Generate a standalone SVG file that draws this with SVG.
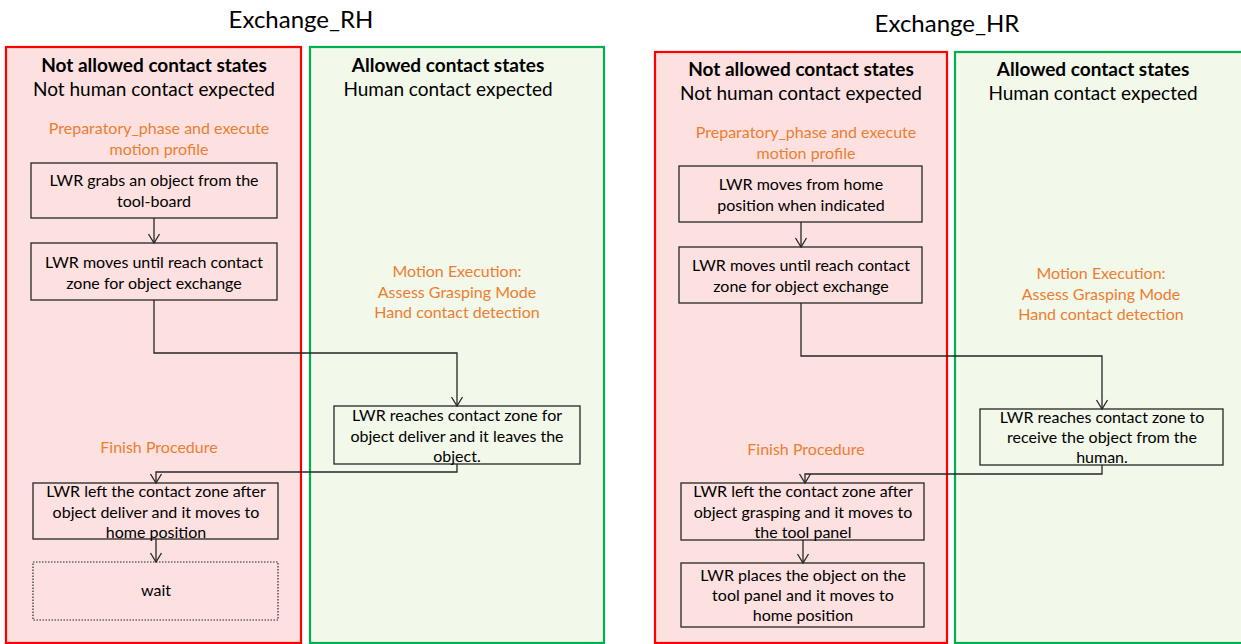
<svg xmlns="http://www.w3.org/2000/svg" width="1241" height="644" viewBox="0 0 1241 644">
<defs>
<marker id="arr" markerUnits="userSpaceOnUse" markerWidth="14" markerHeight="14" refX="12" refY="7" orient="auto" viewBox="0 0 14 14">
<path d="M3,1.5 L12,7 L3,12.5" fill="none" stroke="#262626" stroke-width="1.3"/>
</marker>
</defs>
<style>
text{font-family:Lato,"Open Sans","Liberation Sans",sans-serif;text-anchor:middle;fill:#000}
.title{font-size:24px}
.hb{font-size:19px;font-weight:bold}
.h{font-size:19px}
.or{font-size:16px;fill:#ed7d31}
.t{font-size:16px}
.red{fill:#fde1e1;stroke:#ff0000;stroke-width:2.2}
.grn{fill:#f2f8ea;stroke:#00b050;stroke-width:2.2}
.box{fill:none;stroke:#262626;stroke-width:1.3}
.dot{fill:none;stroke:#262626;stroke-width:1.2;stroke-dasharray:1.5 1.5}
.con{fill:none;stroke:#262626;stroke-width:1.3;marker-end:url(#arr)}
</style>
<rect width="1241" height="644" fill="#fff"/>
<text class="title" x="301" y="28">Exchange_RH</text>
<text class="title" x="947" y="32">Exchange_HR</text>

<g id="panel-rh-notallowed">
<rect class="red" x="6" y="47" width="295" height="596"/>
<text class="hb" x="154" y="72">Not allowed contact states</text>
<text class="h" x="154" y="96">Not human contact expected</text>
<text class="or" x="159" y="134">Preparatory_phase and execute</text>
<text class="or" x="159" y="155">motion profile</text>
<text class="or" x="159" y="453">Finish Procedure</text>
</g>
<g id="panel-rh-allowed">
<rect class="grn" x="310" y="47" width="294" height="596"/>
<text class="hb" x="448" y="72">Allowed contact states</text>
<text class="h" x="448" y="96">Human contact expected</text>
<text class="or" x="457" y="277">Motion Execution:</text>
<text class="or" x="457" y="298">Assess Grasping Mode</text>
<text class="or" x="457" y="318">Hand contact detection</text>
</g>
<g id="panel-hr-notallowed">
<rect class="red" x="655" y="52" width="292" height="591"/>
<text class="hb" x="801" y="76">Not allowed contact states</text>
<text class="h" x="801" y="100">Not human contact expected</text>
<text class="or" x="806" y="138">Preparatory_phase and execute</text>
<text class="or" x="806" y="159">motion profile</text>
<text class="or" x="806" y="455">Finish Procedure</text>
</g>
<g id="panel-hr-allowed">
<rect class="grn" x="955" y="52" width="300" height="591"/>
<text class="hb" x="1093" y="76">Allowed contact states</text>
<text class="h" x="1093" y="100">Human contact expected</text>
<text class="or" x="1101" y="279">Motion Execution:</text>
<text class="or" x="1101" y="300">Assess Grasping Mode</text>
<text class="or" x="1101" y="320">Hand contact detection</text>
</g>

<g id="rh-box1">
<rect class="box" x="31" y="163" width="246" height="55"/>
<text class="t" x="154" y="186">LWR grabs an object from the</text>
<text class="t" x="154" y="207">tool-board</text>
</g>
<g id="rh-box2">
<rect class="box" x="31" y="243" width="246" height="57"/>
<text class="t" x="154" y="268">LWR moves until reach contact</text>
<text class="t" x="154" y="289">zone for object exchange</text>
</g>
<g id="rh-box3">
<rect class="box" x="334" y="406" width="246" height="58"/>
<text class="t" x="457" y="421">LWR reaches contact zone for</text>
<text class="t" x="457" y="442">object deliver and it leaves the</text>
<text class="t" x="457" y="462">object.</text>
</g>
<g id="rh-box4">
<rect class="box" x="33" y="483" width="245" height="56"/>
<text class="t" x="156" y="497">LWR left the contact zone after</text>
<text class="t" x="156" y="518">object deliver and it moves to</text>
<text class="t" x="156" y="538">home position</text>
</g>
<g id="rh-wait">
<rect class="dot" x="33" y="562" width="245" height="58"/>
<text class="t" x="156" y="596">wait</text>
</g>

<g id="hr-box1">
<rect class="box" x="679" y="166" width="243" height="56"/>
<text class="t" x="801" y="190">LWR moves from home</text>
<text class="t" x="801" y="211">position when indicated</text>
</g>
<g id="hr-box2">
<rect class="box" x="679" y="247" width="243" height="56"/>
<text class="t" x="801" y="271">LWR moves until reach contact</text>
<text class="t" x="801" y="292">zone for object exchange</text>
</g>
<g id="hr-box3">
<rect class="box" x="980" y="409" width="243" height="56"/>
<text class="t" x="1102" y="423">LWR reaches contact zone to</text>
<text class="t" x="1102" y="443">receive the object from the</text>
<text class="t" x="1102" y="463">human.</text>
</g>
<g id="hr-box4">
<rect class="box" x="681" y="483" width="243" height="57"/>
<text class="t" x="803" y="497">LWR left the contact zone after</text>
<text class="t" x="803" y="518">object grasping and it moves to</text>
<text class="t" x="803" y="538">the tool panel</text>
</g>
<g id="hr-box5">
<rect class="box" x="681" y="563" width="243" height="64"/>
<text class="t" x="803" y="581">LWR places the object on the</text>
<text class="t" x="803" y="601">tool panel and it moves to</text>
<text class="t" x="803" y="621">home position</text>
</g>

<g id="connectors">
<path class="con" d="M154,218 V243"/>
<path class="con" d="M154,300 V353 H457 V406"/>
<path class="con" d="M457,464 V472 H156 V483"/>
<path class="con" d="M156,539 V562"/>
<path class="con" d="M801,222 V247"/>
<path class="con" d="M801,303 V356 H1102 V409"/>
<path class="con" d="M1102,465 V474 H805 V483"/>
<path class="con" d="M803,540 V563"/>
</g>
</svg>
